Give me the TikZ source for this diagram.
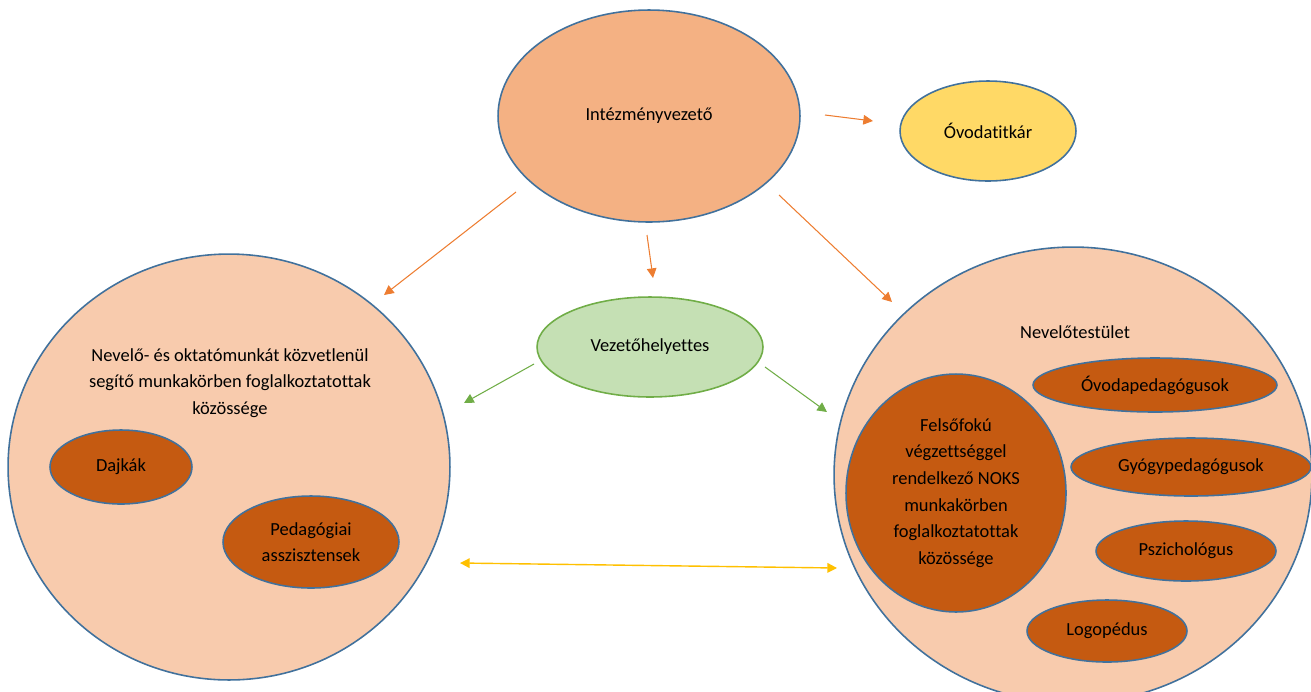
\documentclass[tikz,border=0pt]{standalone}
\usepackage{fontspec}
\setmainfont{Carlito}[Ligatures=NoCommon]
\usetikzlibrary{arrows.meta,shapes.geometric}

\definecolor{edgeblue}{HTML}{41719C}
\definecolor{chieffill}{HTML}{F4B183}
\definecolor{secrfill}{HTML}{FFD966}
\definecolor{deputyfill}{HTML}{C5E0B4}
\definecolor{deputyedge}{HTML}{70AD47}
\definecolor{groupfill}{HTML}{F8CBAD}
\definecolor{unitfill}{HTML}{C55A11}
\definecolor{arrorange}{HTML}{ED7D31}
\definecolor{arrgreen}{HTML}{70AD47}
\definecolor{arryellow}{HTML}{FFC000}

\begin{document}
\begin{tikzpicture}[x=0.02cm,y=-0.02cm,>={Triangle[length=5.5pt,width=5.5pt]},
  font=\fontsize{10.5}{15.2}\selectfont,
  blob/.style={ellipse,draw=edgeblue,line width=0.9pt,inner sep=0pt,align=center},
  group/.style={blob,fill=groupfill},
  unit/.style={blob,fill=unitfill},
  heading/.style={align=center,inner sep=0pt}]
  \useasboundingbox (0,0) rectangle (1311,691);

  % the two communities
  \node[group,minimum width=8.84cm,minimum height=8.52cm] (support) at (229,467) {};
  \node[group,minimum width=9.56cm,minimum height=9.12cm] (staff)   at (1073,475) {};

  % leaders
  \node[blob,fill=chieffill,minimum width=6.04cm,minimum height=4.24cm] (chief) at (649,116) {Intézményvezető};
  \node[blob,fill=secrfill,minimum width=3.52cm,minimum height=2cm]     (secr)  at (988,131) {Óvodatitkár};
  \node[blob,fill=deputyfill,draw=deputyedge,minimum width=4.52cm,minimum height=2cm] (deputy) at (650,347) {Vezetőhelyettes};

  % left community
  \node[heading] (supporttitle) at (230,383) {Nevelő- és oktatómunkát közvetlenül\\segítő munkakörben foglalkoztatottak\\közössége};
  \node[unit,minimum width=2.84cm,minimum height=1.48cm] (nannies)    at (121,467) {Dajkák};
  \node[unit,minimum width=3.52cm,minimum height=1.84cm] (assistants) at (311,542) {Pedagógiai\\asszisztensek};

  % right community
  \node[heading] (stafftitle) at (1075,332) {Nevelőtestület};
  \node[unit,minimum width=4.4cm,minimum height=4.76cm]  (noks)     at (956,493)  {Felsőfokú\\végzettséggel\\rendelkező NOKS\\munkakörben\\foglalkoztatottak\\közössége};
  \node[unit,minimum width=4.88cm,minimum height=1.08cm] (teachers) at (1155,385) {Óvodapedagógusok};
  \node[unit,minimum width=4.8cm,minimum height=1.16cm]  (special)  at (1191,467) {Gyógypedagógusok};
  \node[unit,minimum width=3.6cm,minimum height=1.2cm]   (psych)    at (1186,551) {Pszichológus};
  \node[unit,minimum width=3.2cm,minimum height=1.24cm]  (speech)   at (1107,631) {Logopédus};

  % arrow ends
  \coordinate (chiefL)   at (516,192);  \coordinate (supportN) at (384,295);
  \coordinate (chiefS)   at (647,235);  \coordinate (deputyN)  at (653,278);
  \coordinate (chiefR)   at (779,195);  \coordinate (staffN)   at (892,302);
  \coordinate (chiefE)   at (825,115);  \coordinate (secrW)    at (873,121);
  \coordinate (deputyW)  at (534,364);  \coordinate (supportE) at (464,403);
  \coordinate (deputyE)  at (765,367);  \coordinate (staffW)   at (827,412);
  \coordinate (supportS) at (460,563);  \coordinate (staffS)   at (837,568);

  \draw[->,arrorange,line width=0.6pt] (chiefL) -- (supportN);
  \draw[->,arrorange,line width=0.6pt] (chiefS) -- (deputyN);
  \draw[->,arrorange,line width=0.6pt] (chiefR) -- (staffN);
  \draw[->,arrorange,line width=0.6pt] (chiefE) -- (secrW);
  \draw[->,arrgreen,line width=0.6pt] (deputyW) -- (supportE);
  \draw[->,arrgreen,line width=0.6pt] (deputyE) -- (staffW);
  \draw[<->,arryellow,line width=0.8pt] (supportS) -- (staffS);
\end{tikzpicture}
\end{document}
